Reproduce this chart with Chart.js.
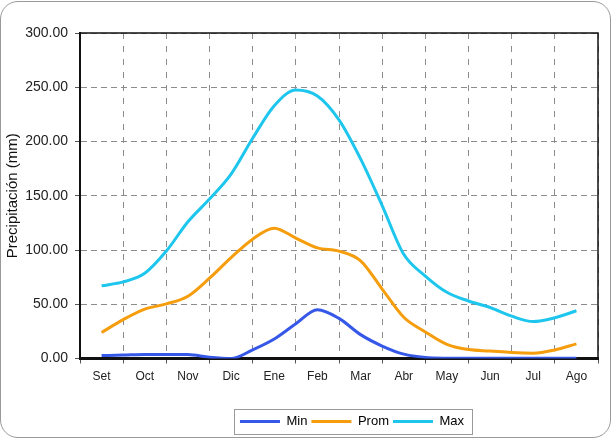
<!DOCTYPE html>
<html><head><meta charset="utf-8">
<script src="https://cdn.jsdelivr.net/npm/chart.js@4.4.0/dist/chart.umd.min.js"></script>
<style>
html,body{margin:0;padding:0;background:#fff;}
#wrap{position:relative;width:612px;height:439px;overflow:hidden;}
#frame{position:absolute;left:0;top:1px;width:609px;height:435px;border:1px solid #9a9a9a;border-radius:18px;}
canvas{position:absolute;left:0;top:0;}
</style></head><body>
<div id="wrap"><div id="frame"></div><canvas id="c" width="612" height="439"></canvas></div>
<script>
// Month labels (x axis)
const months = ['Set','Oct','Nov','Dic','Ene','Feb','Mar','Abr','May','Jun','Jul','Ago'];
const positions = [0,0.5,1,1.5,2,2.5,3,3.5,4,4.5,5,5.5,6,6.5,7,7.5,8,8.5,9,9.5,10,10.5,11];
// Series values (mm)
const minValues  = [2.7,3.2,3.8,3.8,3.6,1.2,0,8,18,32,45,37,22,11.5,4,1,0.3,0.2,0.2,0.2,0.2,0.2,0.2];
const promValues = [24,35.8,45.5,50.3,57.4,74,93,110,120,111,102,99,90,64,38,24.5,13,8.2,6.9,5.5,4.9,7.9,13.5];
const maxValues  = [67,70.6,78.5,99,126,147,170,203,233,247.5,242,220,184,141,96,76,61,53,47,39,34,37.5,44];
// Y tick values
const yTickValues = [0,50,100,150,200,250,300];

const toPoints = vals => vals.map((v,i)=>({x:positions[i], y:v}));
const FONT = 'Liberation Sans, Arial, sans-serif';

const framePlugin = {
  id:'framePlugin',
  afterLayout(chart){ const lg = chart.legend; lg.left += 53; lg.right += 53; },
  afterDraw(chart){
    const {ctx, chartArea:a} = chart;
    ctx.save();
    ctx.strokeStyle = '#111'; ctx.lineWidth = 1.5;
    ctx.beginPath(); ctx.moveTo(a.left, a.top); ctx.lineTo(a.right, a.top); ctx.lineTo(a.right, a.bottom); ctx.stroke();
    const hb = chart.legend.legendHitBoxes;
    if (hb && hb.length){
      const l = Math.round(hb[0].left - 6) + 0.5;
      const r = Math.round(hb[hb.length-1].left + hb[hb.length-1].width + 8) + 0.5;
      const cy = hb[0].top + hb[0].height/2;
      const t = Math.round(cy - 12.5) + 0.5;
      ctx.strokeStyle = '#9a9a9a'; ctx.lineWidth = 1;
      ctx.strokeRect(l, t, r - l, 25);
    }
    ctx.restore();
  }
};

const ds = (label, vals, color) => ({
  label, data: toPoints(vals), borderColor: color, backgroundColor: color,
  borderWidth: 3, pointRadius: 0, fill: false, cubicInterpolationMode: 'monotone'
});

new Chart(document.getElementById('c'), {
  type: 'line',
  data: { datasets: [
    ds('Min', minValues, '#3658e8'),
    ds('Prom', promValues, '#f59d0c'),
    ds('Max', maxValues, '#1ec6ee')
  ]},
  options: {
    responsive: false, animation: false,
    layout: { padding: { top: 33, right: 14, left: 0, bottom: 1 } },
    plugins: {
      tooltip: { enabled: false },
      legend: {
        position: 'bottom',
        labels: {
          boxWidth: 40, boxHeight: 3, padding: 4, color: '#111',
          font: { family: FONT, size: 13 },
          generateLabels(chart){
            return chart.data.datasets.map((d,i)=>({text:d.label, fillStyle:d.borderColor, strokeStyle:d.borderColor, lineWidth:0, hidden:false, datasetIndex:i}));
          }
        }
      }
    },
    scales: {
      x: {
        type: 'linear', min: -0.5, max: 11.5,
        afterBuildTicks(scale){
          const t = []; for (let k = 0; k <= 24; k++) t.push({value: -0.5 + k*0.5});
          scale.ticks = t;
        },
        afterFit(scale){ scale.height = 52.5; },
        ticks: {
          autoSkip: false, maxRotation: 0, minRotation: 0, padding: 6, color: '#222',
          font: { family: FONT, size: 12 },
          callback: v => Number.isInteger(v) ? months[v] : ''
        },
        grid: {
          color: c => (c.tick && Number.isInteger(c.tick.value)) ? 'rgba(0,0,0,0)' : '#8c8c8c',
          tickColor: c => (c.tick && Number.isInteger(c.tick.value)) ? 'rgba(0,0,0,0)' : '#555',
          tickLength: 5, lineWidth: 1
        },
        border: { display: true, color: '#111', width: 3, dash: [6,7] }
      },
      y: {
        min: 0, max: 300,
        afterBuildTicks(scale){ scale.ticks = yTickValues.map(v=>({value:v})); },
        afterFit(scale){ scale.width = 80; },
        ticks: {
          padding: 7, color: '#222', font: { family: FONT, size: 14 },
          callback: v => v.toFixed(2)
        },
        grid: { color: '#8c8c8c', tickColor: '#555', tickLength: 5, lineWidth: 1 },
        border: { display: true, color: '#111', width: 2, dash: [6,4] },
        title: {
          display: true, text: 'Precipitación (mm)', color: '#111',
          font: { family: FONT, size: 15 }, padding: { top: 4, bottom: 0 }
        }
      }
    }
  },
  plugins: [framePlugin]
});
</script>
</body></html>
